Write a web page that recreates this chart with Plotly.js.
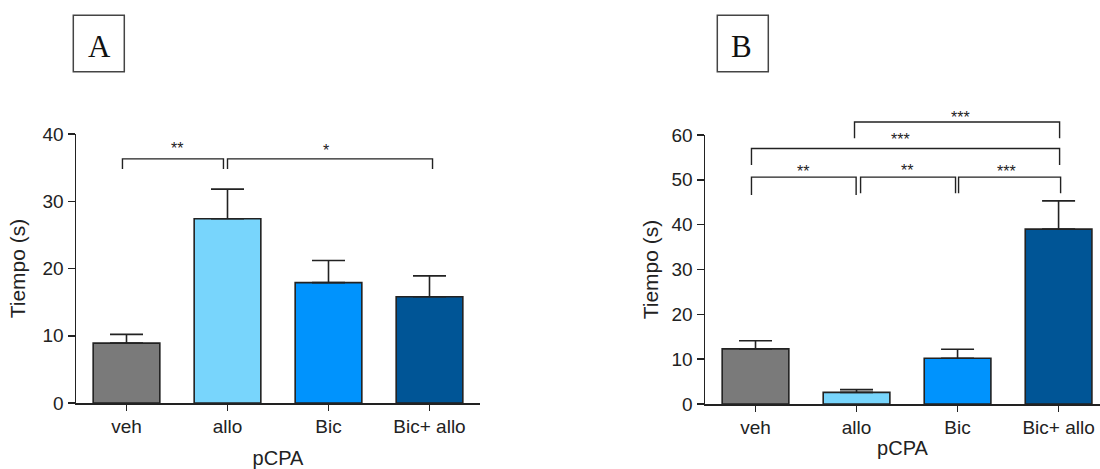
<!DOCTYPE html>
<html><head><meta charset="utf-8">
<script src="https://cdn.plot.ly/plotly-3.0.1.min.js"></script>
<style>html,body{margin:0;padding:0;background:#fff}</style>
</head><body><div id="chart" style="width:1100px;height:469px"></div>
<script>
// ---- data ----
const categories = ['veh', 'allo', 'Bic', 'Bic+ allo'];
const barColors = ['#7a7a7a', '#78d5fc', '#0093fd', '#005596'];
const meanA = [8.9, 27.4, 17.9, 15.8];
const semA = [1.3, 4.4, 3.3, 3.1];
const meanB = [12.3, 2.6, 10.2, 39.0];
const semB = [1.8, 0.6, 2.0, 6.3];
const yTitle = 'Tiempo (s)';
const xTitle = 'pCPA';
// significance brackets (category units / y units)
const sigFromA = [-0.04, 1.0];
const sigToA = [0.96, 3.03];
const sigTopA = [36.3, 36.3];
const sigLegA = [34.8, 34.8];
const sigLabelA = ['**', '*'];
const sigLabelXA = [0.5, 1.98];
const sigLabelYA = [38.5, 38.1];
const sigFromB = [-0.04, 1.04, 2.01, -0.04, 0.98];
const sigToB = [0.996, 1.98, 3.02, 3.01, 3.01];
const sigTopB = [50.6, 50.6, 50.6, 57.0, 62.9];
const sigLegB = [46.6, 47.0, 47.0, 53.3, 59.3];
const sigLabelB = ['**', '**', '***', '***', '***'];
const sigLabelXB = [0.475, 1.5, 2.48, 1.44, 2.03];
const sigLabelYB = [52.8, 52.9, 52.8, 59.8, 64.8];

// ---- layout constants ----
const W = 1100, H = 469;
const rangeXA = [-0.5, 3.5], rangeYA = [0, 40];
const rangeXB = [-0.5, 3.41], rangeYB = [0, 60];
const ink = '#222';
const sans = 'Liberation Sans, Arial, sans-serif';

function bars(mean, sem, xa, ya) {
  return {
    type: 'bar', x: categories, y: mean, xaxis: xa, yaxis: ya,
    width: 0.66,
    marker: {color: barColors, line: {color: ink, width: 1.6}},
    error_y: {type: 'data', array: sem, arrayminus: sem.map(() => 0), symmetric: false,
              color: ink, thickness: 1.6, width: 16.5},
    hoverinfo: 'skip', showlegend: false
  };
}

function frac(v, r) { return (v - r[0]) / (r[1] - r[0]); }

function brackets(from, to, top, leg, labels, lx, ly, xa, rx, ry) {
  const shapes = [], anns = [];
  for (let i = 0; i < from.length; i++) {
    const x0 = frac(from[i], rx), x1 = frac(to[i], rx);
    const yt = frac(top[i], ry), yl = frac(leg[i], ry);
    shapes.push({type: 'path', xref: xa + ' domain', yref: xa.replace('x', 'y') + ' domain',
      path: `M${x0},${yl} L${x0},${yt} L${x1},${yt} L${x1},${yl}`,
      line: {color: ink, width: 1.4}});
    anns.push({xref: xa + ' domain', yref: xa.replace('x', 'y') + ' domain',
      x: frac(lx[i], rx), y: frac(ly[i], ry), text: labels[i], showarrow: false,
      xanchor: 'center', yanchor: 'middle', yshift: -4,
      font: {family: sans, size: 16, color: '#222'}});
  }
  return {shapes, anns};
}

const bA = brackets(sigFromA, sigToA, sigTopA, sigLegA, sigLabelA, sigLabelXA, sigLabelYA, 'x', rangeXA, rangeYA);
const bB = brackets(sigFromB, sigToB, sigTopB, sigLegB, sigLabelB, sigLabelXB, sigLabelYB, 'x2', rangeXB, rangeYB);

function xAxis(domain, range, standoff) {
  return {domain, range, type: 'category', showline: true, linecolor: ink, linewidth: 1.5,
    ticks: 'outside', ticklen: 6, tickwidth: 1.5, tickcolor: ink, showgrid: false, zeroline: false,
    tickfont: {family: sans, size: 19, color: ink}, fixedrange: true,
    title: {text: xTitle, font: {family: sans, size: 20, color: ink}, standoff}};
}
function yAxis(domain, range, anchor, standoff) {
  return {domain, range, anchor, showline: true, linecolor: ink, linewidth: 1.5,
    ticks: 'outside', ticklen: 7, tickwidth: 1.5, tickcolor: ink, showgrid: false, zeroline: false,
    dtick: 10, tickfont: {family: sans, size: 19, color: ink}, fixedrange: true,
    title: {text: yTitle, font: {family: sans, size: 21, color: ink}, standoff}};
}

const panelBoxes = [
  {x0: 73.3, x1: 124.3, y0: 15.3, y1: 71.7, label: 'A', tx: 99.5, ty: 46},
  {x0: 717.3, x1: 768.3, y0: 15.3, y1: 71.7, label: 'B', tx: 741, ty: 46}
];
const boxShapes = panelBoxes.map(b => ({type: 'rect', xref: 'paper', yref: 'paper',
  x0: b.x0 / W, x1: b.x1 / W, y0: 1 - b.y1 / H, y1: 1 - b.y0 / H,
  line: {color: '#444', width: 1.5}}));
const boxAnns = panelBoxes.map(b => ({xref: 'paper', yref: 'paper', x: b.tx / W, y: 1 - b.ty / H,
  text: b.label, showarrow: false, xanchor: 'center', yanchor: 'middle',
  font: {family: 'Liberation Serif, Times New Roman, serif', size: 31, color: '#111'}}));

const layout = {
  width: W, height: H, margin: {l: 0, r: 0, t: 0, b: 0},
  paper_bgcolor: '#fff', plot_bgcolor: '#fff', showlegend: false, bargap: 0.34,
  xaxis: xAxis([76 / W, 480 / W], rangeXA, 22),
  yaxis: yAxis([(H - 403) / H, (H - 134) / H], rangeYA, 'x', 11),
  xaxis2: Object.assign(xAxis([705 / W, 1], rangeXB, 3), {anchor: 'y2'}),
  yaxis2: yAxis([(H - 404) / H, (H - 135) / H], rangeYB, 'x2', 7),
  shapes: bA.shapes.concat(bB.shapes, boxShapes),
  annotations: bA.anns.concat(bB.anns, boxAnns)
};

Plotly.newPlot('chart', [bars(meanA, semA, 'x', 'y'), bars(meanB, semB, 'x2', 'y2')], layout,
  {displayModeBar: false, staticPlot: true});
</script></body></html>
